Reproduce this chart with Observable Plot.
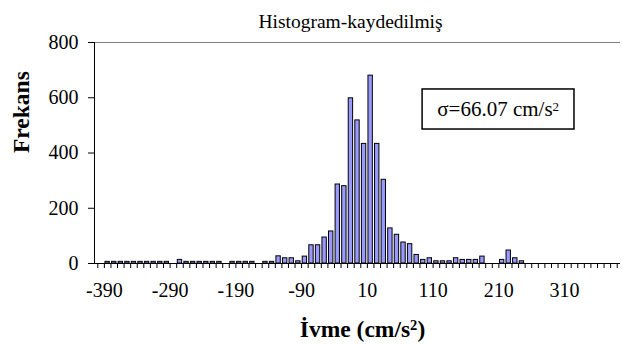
<!DOCTYPE html>
<html>
<head>
<meta charset="utf-8">
<script src="https://cdn.jsdelivr.net/npm/d3@7"></script>
<script src="https://cdn.jsdelivr.net/npm/@observablehq/plot@0.6"></script>
<style>
  body { margin: 0; background: #fff; }
  #chart svg { display: block; }
</style>
</head>
<body>
<div id="chart"></div>
<script>
// Lower edge of each 10 cm/s² acceleration bin
const binLow = [
  -400, -390, -380, -370, -360, -350, -340, -330, -320, -310,
  -300, -290, -280, -270, -260, -250, -240, -230, -220, -210,
  -200, -190, -180, -170, -160, -150, -140, -130, -120, -110,
  -100,  -90,  -80,  -70,  -60,  -50,  -40,  -30,  -20,  -10,
     0,   10,   20,   30,   40,   50,   60,   70,   80,   90,
   100,  110,  120,  130,  140,  150,  160,  170,  180,  190,
   200,  210,  220,  230,  240,  250,  260,  270,  280,  290,
   300,  310,  320,  330,  340,  350,  360,  370,  380,  390
];
const binWidth = 10;

// Recorded frequency in each bin
const counts = [
    0,   6,   6,   6,   6,   6,   6,   6,   6,   6,
    6,   0,  13,   6,   6,   6,   6,   6,   6,   0,
    6,   6,   6,   6,   0,   6,   6,  26,  19,  19,
    8,  25,  66,  66,  94, 116, 286, 280, 598, 518,
  433, 680, 433, 303, 127, 104,  76,  70,  31,  13,
   19,   8,   8,   8,  19,  13,  13,  13,  25,   0,
    0,  13,  47,  19,   8,   0,   0,   0,   0,   0,
    0,   0,   0,   0,   0,   0,   0,   0,   0,   0
];

const xTickMarks = binLow;
const xTickLabels = [-390, -290, -190, -90, 10, 110, 210, 310];
const yTicks = [0, 200, 400, 600, 800];

const titleText = "Histogram-kaydedilmiş";
// Texts with a superscript: [before, superscript, after]
const xTitleParts = ["İvme (cm/s", "2", ")"];
const sigmaParts = ["σ=66.07 cm/s", "2", ""];
const yTitle = "Frekans";
// Annotation box placed in data space (acceleration, frequency)
const sigmaBox = {x1: 94, x2: 325, y1: 485, y2: 630, x: 209, y: 557};

const bins = binLow.map((lo, i) => ({lo, hi: lo + binWidth, count: counts[i]}))
  .filter(d => d.count > 0);

const serif = "'Liberation Serif', 'Times New Roman', serif";

const chart = Plot.plot({
  width: 623,
  height: 344,
  marginLeft: 94,
  marginRight: 3,
  marginTop: 42,
  marginBottom: 81,
  x: {domain: [-405, 395]},
  y: {domain: [0, 800]},
  style: {fontFamily: serif, fontSize: "20px", background: "white", color: "black"},
  marks: [
    Plot.ruleY([800], {stroke: "#808080", strokeWidth: 1}),
    Plot.rectY(bins, {
      x1: "lo", x2: "hi", y: "count",
      fill: "#9999ff", stroke: "black", strokeWidth: 1,
      insetLeft: 1.1, insetRight: 1.1
    }),
    Plot.ruleY([0], {stroke: "black", strokeWidth: 1}),
    Plot.ruleX([-405], {stroke: "black", strokeWidth: 1}),
    Plot.axisY(yTicks, {
      tickSize: 6, tickPadding: 10, fontSize: 20,
      tickFormat: d => String(d), label: null
    }),
    Plot.axisX(xTickMarks, {
      tickSize: 5, tickFormat: () => "", label: null
    }),
    Plot.axisX(xTickLabels, {
      tickSize: 0, tickPadding: 19, fontSize: 20,
      tickFormat: d => String(d), label: null
    }),
    Plot.text([titleText], {
      frameAnchor: "top", lineAnchor: "middle", dy: -21, dx: -7, fontSize: 19.5
    }),
    Plot.text([yTitle], {
      frameAnchor: "left", lineAnchor: "middle", rotate: -90, dx: -73,
      fontSize: 23.5, fontWeight: "bold"
    }),
    Plot.text([xTitleParts.join("")], {
      frameAnchor: "bottom", lineAnchor: "middle", dy: 66, dx: 5,
      fontSize: 23.5, fontWeight: "bold", className: "sup-x"
    }),
    Plot.rect([sigmaBox], {
      x1: "x1", x2: "x2", y1: "y1", y2: "y2",
      fill: "white", stroke: "black", strokeWidth: 1.5
    }),
    Plot.text([sigmaBox], {
      x: "x", y: "y", text: () => sigmaParts.join(""), fontSize: 21, className: "sup-s"
    })
  ]
});

// Rebuild a text element so its middle part is set as a superscript
function superscript(selector, parts) {
  chart.querySelectorAll(selector + " text").forEach(t => {
    const [before, sup, after] = parts;
    t.textContent = "";
    const ns = "http://www.w3.org/2000/svg";
    const a = document.createElementNS(ns, "tspan");
    a.textContent = before;
    const b = document.createElementNS(ns, "tspan");
    b.textContent = sup;
    b.setAttribute("dy", "-0.45em");
    b.setAttribute("font-size", "0.62em");
    t.append(a, b);
    if (after) {
      const c = document.createElementNS(ns, "tspan");
      c.textContent = after;
      c.setAttribute("dy", "0.28em");
      t.append(c);
    }
  });
}
superscript(".sup-x", xTitleParts);
superscript(".sup-s", sigmaParts);

document.getElementById("chart").append(chart);
</script>
</body>
</html>
